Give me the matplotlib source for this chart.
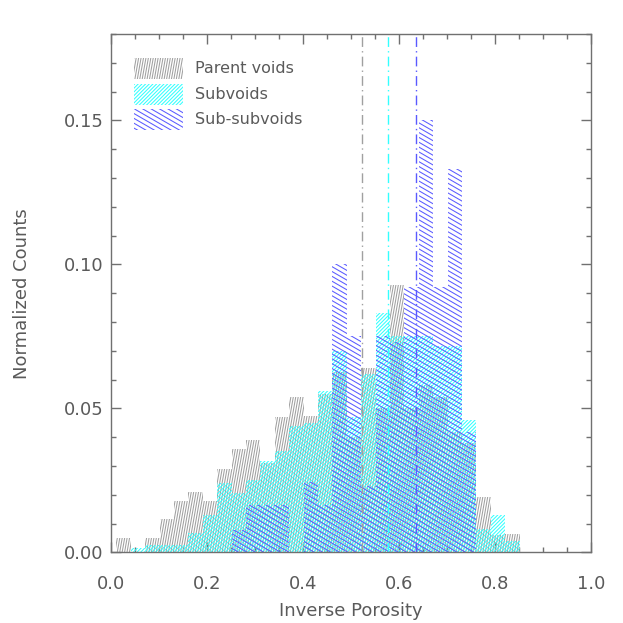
import numpy as np
import matplotlib
matplotlib.use('Agg')
import matplotlib.pyplot as plt
from matplotlib.patches import Polygon
from matplotlib.collections import LineCollection
from matplotlib.transforms import IdentityTransform

# histogram bins (inverse porosity), width 0.03
bin_start = 0.012
bin_width = 0.03

parent = [0.005, 0.0, 0.005, 0.0115, 0.018, 0.021, 0.018, 0.029, 0.036, 0.039,
          0.031, 0.047, 0.054, 0.0475, 0.055, 0.0625, 0.040, 0.064, 0.050, 0.093,
          0.050, 0.058, 0.054, 0.042, 0.038, 0.0194, 0.006, 0.0064]
sub = [0.0, 0.0015, 0.0025, 0.0025, 0.0026, 0.0067, 0.013, 0.024, 0.0206, 0.025,
       0.0316, 0.0354, 0.044, 0.045, 0.056, 0.070, 0.047, 0.062, 0.083, 0.075,
       0.075, 0.075, 0.0716, 0.0716, 0.046, 0.008, 0.013, 0.004]
subsub = [0.0, 0.0, 0.0, 0.0, 0.0, 0.0, 0.0, 0.0, 0.0078, 0.0165,
          0.0165, 0.0165, 0.0, 0.0246, 0.0165, 0.100, 0.075, 0.023, 0.075, 0.073,
          0.092, 0.150, 0.092, 0.133, 0.042, 0.0, 0.0, 0.0]
means = [0.523, 0.578, 0.637]
labels = ['Parent voids', 'Subvoids', 'Sub-subvoids']
colors = ['#a0a0a0', '#33ffff', '#5a5aff']
# hatch angle (deg) and spacing (px)
hatches = [(80, 2.4), (45, 2.6), (-30, 4.2)]

txt = '#5a5a5a'
axc = '#707070'


def hatch(ax, verts, trans, angle, step, color, lw=0.75):
    patch = Polygon(verts, closed=True, fill=False, edgecolor='none', transform=trans)
    ax.add_patch(patch)
    pts = trans.transform(verts)
    a = np.deg2rad(angle)
    d = np.array([np.cos(a), np.sin(a)])
    n = np.array([-np.sin(a), np.cos(a)])
    proj = pts @ n
    along = pts @ d
    offs = np.arange(np.floor(proj.min() / step) * step, proj.max() + step, step)
    segs = [[o * n + along.min() * d, o * n + along.max() * d] for o in offs]
    lc = LineCollection(segs, colors=color, linewidths=lw, transform=IdentityTransform())
    lc.set_clip_path(patch)
    ax.add_collection(lc, autolim=False)


def step_verts(edges, vals):
    xs = [edges[0]]
    ys = [0]
    for i, v in enumerate(vals):
        xs += [edges[i], edges[i + 1]]
        ys += [v, v]
    xs.append(edges[-1])
    ys.append(0)
    return np.column_stack([xs, ys])


fig = plt.figure(figsize=(6.23, 6.23), dpi=100)
ax = fig.add_axes([0.1777, 0.1132, 0.7705, 0.8322])
ax.set_xlim(0, 1.0)
ax.set_ylim(0, 0.18)

for vals, c, (ang, st) in zip([parent, sub, subsub], colors, hatches):
    edges = bin_start + bin_width * np.arange(len(vals) + 1)
    hatch(ax, step_verts(edges, vals), ax.transData, ang, st, c)

for m, c in zip(means, colors):
    ax.axvline(m, color=c, lw=1.0, linestyle=(0, (7, 3, 1, 3)))

# legend
for i, (lab, c, (ang, st)) in enumerate(zip(labels, colors, hatches)):
    y0 = 0.9135 - i * 0.0495
    box = np.array([[0.049, y0], [0.150, y0], [0.150, y0 + 0.04], [0.049, y0 + 0.04]])
    hatch(ax, box, ax.transAxes, ang, st, c)
    ax.text(0.175, y0 + 0.02, lab, transform=ax.transAxes, color=txt,
            fontsize=11.5, va='center', ha='left')

ax.set_xticks([0.0, 0.2, 0.4, 0.6, 0.8, 1.0])
ax.set_xticklabels(['0.0', '0.2', '0.4', '0.6', '0.8', '1.0'])
ax.set_yticks([0.0, 0.05, 0.10, 0.15])
ax.set_yticklabels(['0.00', '0.05', '0.10', '0.15'])
ax.set_xticks(np.arange(0, 1.0001, 0.05), minor=True)
ax.set_yticks(np.arange(0, 0.1801, 0.01), minor=True)
ax.tick_params(which='both', direction='in', top=True, right=True, color=axc,
               labelcolor=txt, labelsize=13, width=1.0)
ax.tick_params(which='major', length=7)
ax.tick_params(which='minor', length=3.5)
ax.tick_params(axis='x', which='both', pad=16)
ax.tick_params(axis='y', which='both', pad=5)
for s in ax.spines.values():
    s.set_color(axc)
    s.set_linewidth(1.0)

ax.set_xlabel('Inverse Porosity', fontsize=13, color=txt, labelpad=7)
ax.set_ylabel('Normalized Counts', fontsize=13, color=txt, labelpad=24)

fig.savefig('out.png', dpi=100)
